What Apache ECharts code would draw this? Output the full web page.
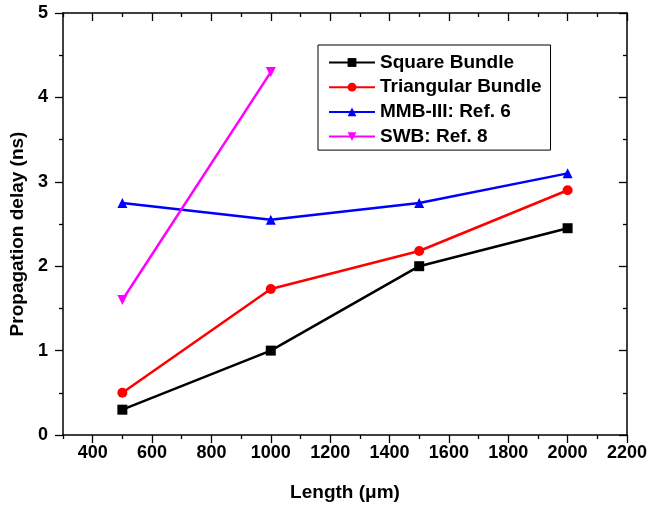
<!DOCTYPE html>
<html><head><meta charset="utf-8">
<script src="https://cdn.jsdelivr.net/npm/echarts@6/dist/echarts.min.js"></script>
<style>html,body{margin:0;padding:0;background:#fff}#c{width:650px;height:508px}</style>
</head><body><div id="c"></div>
<script>
const lengths = [500, 1000, 1500, 2000];
const squareBundle = [0.3, 1.0, 2.0, 2.45];
const triangularBundle = [0.5, 1.73, 2.18, 2.9];
const mmbRef6 = [2.75, 2.55, 2.75, 3.1];
const swbLengths = [500, 1000];
const swbRef8 = [1.6, 4.3];
const names = ['Square Bundle', 'Triangular Bundle', 'MMB-III: Ref. 6', 'SWB: Ref. 8'];
const xMajorTicks = [400, 600, 800, 1000, 1200, 1400, 1600, 1800, 2000, 2200];
const xMinorTicks = [300, 500, 700, 900, 1100, 1300, 1500, 1700, 1900, 2100];

const font = 'Liberation Sans, Arial, sans-serif';
const pair = (xs, ys) => xs.map((x, i) => [x, ys[i]]);
const chart = echarts.init(document.getElementById('c'));
const mk = (name, data, color, symbol, rot) => ({
  name, type: 'line', data, xAxisIndex: 0, yAxisIndex: 0,
  symbol, symbolSize: 10, symbolRotate: rot || 0,
  lineStyle: { color, width: 2.5 }, itemStyle: { color },
  animation: false
});
const lineStyle = { show: true, lineStyle: { color: '#000', width: 1.5 } };
const xAx = (pos, ticks, len, inside, showLine, labels) => ({
  type: 'value', min: 300, max: 2200, interval: 100, position: pos,
  axisLine: showLine ? lineStyle : { show: false },
  splitLine: { show: false },
  axisTick: { show: true, inside, length: len, customValues: ticks, lineStyle: { color: '#000', width: 1.3 } },
  axisLabel: labels ? { show: true, customValues: xMajorTicks, formatter: v => String(v),
    fontFamily: font, fontWeight: 'bold', fontSize: 18, color: '#000', margin: 9 } : { show: false }
});
chart.setOption({
  animation: false,
  grid: { left: 61, right: 20, top: 13, bottom: 73 },
  legend: {
    orient: 'vertical', left: 318, top: 45,
    data: names,
    borderColor: '#000', borderWidth: 1, padding: [8, 9, 4, 10],
    itemWidth: 46, itemHeight: 11, itemGap: 5.7,
    textStyle: { fontFamily: font, fontWeight: 'bold', fontSize: 19, color: '#000' }
  },
  xAxis: [
    Object.assign(xAx('bottom', xMajorTicks, 8, false, true, true), {
      name: 'Length (\u03bcm)', nameLocation: 'middle', nameGap: 48,
      nameTextStyle: { fontFamily: font, fontWeight: 'bold', fontSize: 19, color: '#000' }
    }),
    xAx('bottom', xMinorTicks, 4, false, false, false),
    xAx('top', xMajorTicks, 8, true, true, false),
    xAx('top', xMinorTicks, 4, true, false, false)
  ],
  yAxis: [
    {
      type: 'value', min: 0, max: 5, interval: 1, position: 'left',
      axisLine: lineStyle, splitLine: { show: false },
      name: 'Propagation delay (ns)', nameLocation: 'middle', nameGap: 36,
      nameTextStyle: { fontFamily: font, fontWeight: 'bold', fontSize: 19, color: '#000', padding: [0, 20, 0, 0] },
      axisTick: { show: true, inside: false, length: 8, lineStyle: { color: '#000', width: 1.3 } },
      minorTick: { show: true, splitNumber: 2, length: 4, lineStyle: { color: '#000', width: 1.3 } },
      axisLabel: { fontFamily: font, fontWeight: 'bold', fontSize: 18, color: '#000', margin: 15 }
    },
    {
      type: 'value', min: 0, max: 5, interval: 1, position: 'right',
      axisLine: lineStyle, splitLine: { show: false },
      axisTick: { show: true, inside: true, length: 8, lineStyle: { color: '#000', width: 1.3 } },
      minorTick: { show: true, splitNumber: 2, length: 4, lineStyle: { color: '#000', width: 1.3 } },
      axisLabel: { show: false }
    }
  ],
  series: [
    mk(names[0], pair(lengths, squareBundle), '#000000', 'rect'),
    mk(names[1], pair(lengths, triangularBundle), '#ff0000', 'circle'),
    mk(names[2], pair(lengths, mmbRef6), '#0000ff', 'triangle'),
    mk(names[3], pair(swbLengths, swbRef8), '#ff00ff', 'triangle', 180)
  ]
});
</script></body></html>
